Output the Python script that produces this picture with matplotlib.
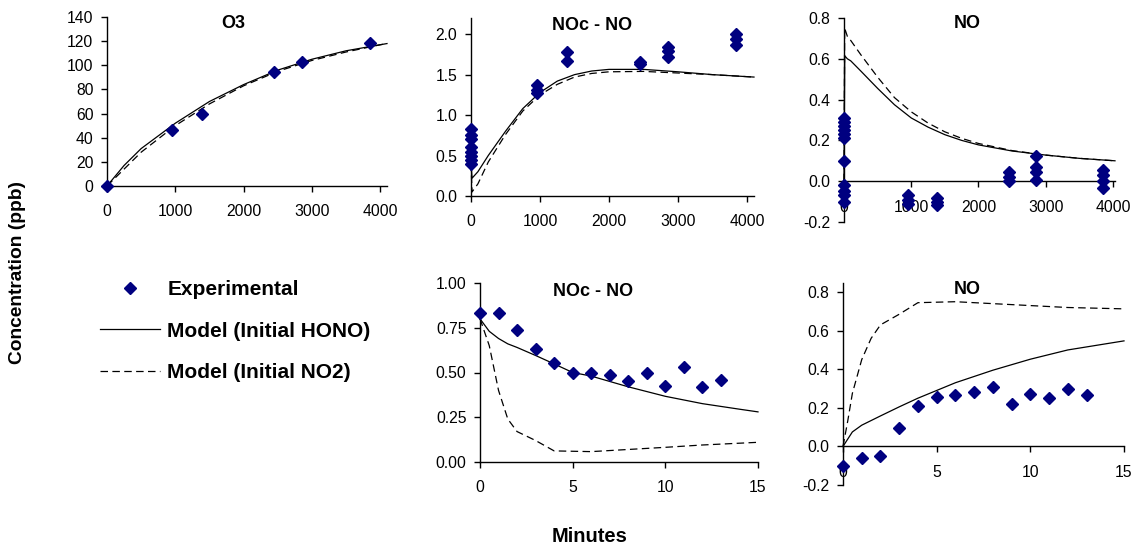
import matplotlib
matplotlib.use("Agg")
import matplotlib.pyplot as plt
from matplotlib.lines import Line2D
import numpy as np

plt.rcParams['font.family'] = ['Liberation Sans', 'DejaVu Sans']

W, H = 1135, 546
MARK = '#000080'

# ---------------- data ----------------
# Panel 1: O3 (long time scale)
o3_exp_t = [0, 950, 1385, 2450, 2855, 3845]
o3_exp_v = [0, 46.5, 60, 94.7, 102.4, 118.7]
o3_mod_t = [0, 250, 500, 1000, 1500, 2000, 2500, 3000, 3500, 4000, 4100]
o3_hono_v = [0, 17, 31, 52, 70, 84, 96, 105, 112, 117, 118]
o3_no2_v = [0, 14, 28, 50, 68, 83, 95, 104, 111, 117, 118]

# Panel 2: NOc - NO (long)
noz_exp_t = [0, 0, 0, 0, 0, 0, 0, 0,
             950, 950, 950, 1385, 1385, 2450, 2450,
             2855, 2855, 2855, 3845, 3845, 3845]
noz_exp_v = [0.40, 0.45, 0.50, 0.55, 0.61, 0.70, 0.75, 0.83,
             1.27, 1.31, 1.37, 1.67, 1.78, 1.63, 1.66,
             1.72, 1.79, 1.84, 1.87, 1.94, 2.00]
noz_mod_t = [0, 15, 100, 250, 500, 750, 1000, 1250, 1500, 1750, 2000,
             2500, 3000, 3500, 4100]
noz_hono_v = [0.40, 0.22, 0.30, 0.50, 0.80, 1.08, 1.28, 1.42, 1.50, 1.545,
              1.565, 1.565, 1.535, 1.50, 1.47]
noz_no2_v = [0.40, 0.05, 0.15, 0.42, 0.76, 1.05, 1.25, 1.38, 1.47, 1.515,
             1.535, 1.54, 1.52, 1.50, 1.47]

# Panel 3: NO (long)
no_exp_t = [0, 0, 0, 0, 0, 0, 0, 0, 0, 0, 0,
            950, 950, 950, 1385, 1385, 1385,
            2450, 2450, 2450, 2855, 2855, 2855, 2855,
            3845, 3845, 3845, 3845]
no_exp_v = [0.21, 0.23, 0.25, 0.27, 0.29, 0.31, 0.10, -0.02, -0.05, -0.07, -0.10,
            -0.07, -0.09, -0.11, -0.08, -0.10, -0.115,
            0.0, 0.02, 0.045, 0.005, 0.045, 0.07, 0.125,
            -0.035, 0.0, 0.03, 0.054]
no_mod_t = [0, 10, 50, 100, 250, 500, 750, 1000, 1250, 1500, 1750, 2000,
            2500, 3000, 3500, 4030]
no_hono_v = [0.0, 0.615, 0.60, 0.59, 0.54, 0.455, 0.375, 0.31, 0.265, 0.228,
             0.20, 0.178, 0.148, 0.128, 0.112, 0.10]
no_no2_v = [0.0, 0.75, 0.71, 0.69, 0.62, 0.51, 0.41, 0.34, 0.285, 0.242,
            0.21, 0.185, 0.15, 0.128, 0.112, 0.10]

# Panel 4: NOc - NO (minutes)
min_t = [0, 1, 2, 3, 4, 5, 6, 7, 8, 9, 10, 11, 12, 13]
nozm_exp_v = [0.83, 0.83, 0.735, 0.63, 0.553, 0.497, 0.50, 0.488, 0.45,
              0.497, 0.426, 0.529, 0.419, 0.456]
nozm_mod_t = [0, 0.5, 1, 1.5, 2, 3, 4, 5, 6, 8, 10, 12, 14, 15]
nozm_hono_v = [0.80, 0.73, 0.69, 0.66, 0.64, 0.595, 0.548, 0.50, 0.48, 0.42,
               0.367, 0.326, 0.295, 0.28]
nozm_no2_mt = [0, 0.5, 1, 1.5, 2, 3, 4, 6, 8, 10, 12, 15]
nozm_no2_v = [0.80, 0.65, 0.40, 0.24, 0.17, 0.12, 0.062, 0.058, 0.07, 0.082,
              0.095, 0.11]

# Panel 5: NO (minutes)
nom_exp_v = [-0.10, -0.062, -0.05, 0.097, 0.21, 0.255, 0.267, 0.284, 0.31,
             0.22, 0.27, 0.25, 0.30, 0.267]
nom_mod_t = [0, 0.5, 1, 2, 3, 4, 5, 6, 8, 10, 12, 15]
nom_hono_v = [0.0, 0.075, 0.11, 0.158, 0.205, 0.25, 0.29, 0.33, 0.395, 0.452,
              0.50, 0.547]
nom_no2_mt = [0, 0.25, 0.5, 1, 1.5, 2, 3, 4, 6, 8, 10, 12, 15]
nom_no2_v = [0.0, 0.13, 0.275, 0.45, 0.56, 0.63, 0.685, 0.745, 0.75, 0.74,
             0.73, 0.72, 0.713]

titles = ['O3', 'NOc - NO', 'NO', 'NOc - NO', 'NO']
legend_labels = ['Experimental', 'Model (Initial HONO)', 'Model (Initial NO2)']

# ---------------- layout ----------------
fig = plt.figure(figsize=(W / 100, H / 100), dpi=100)


def add_ax(l, r, t, b):
    return fig.add_axes([l / W, 1 - b / H, (r - l) / W, (b - t) / H])


LW = 0.9
DASH = (0, (6, 3.5))
MS = 5.8
TICKFS = 11.3


def style(ax, xlim, ylim, yticks, xticks, ylabels):
    ax.set_xlim(*xlim)
    ax.set_ylim(*ylim)
    ax.set_yticks(yticks)
    ax.set_xticks(xticks)
    ax.set_yticklabels(ylabels)
    ax.set_xticklabels([str(v) for v in xticks])
    for s in ['top', 'right']:
        ax.spines[s].set_visible(False)
    for s in ['left', 'bottom']:
        ax.spines[s].set_linewidth(1.0)
    if ylim[0] < 0:
        ax.spines['bottom'].set_position(('data', 0))
    ax.tick_params(axis='both', direction='out', length=4.3, width=1.0,
                   labelsize=TICKFS)
    ax.tick_params(axis='x', pad=9.0)
    ax.tick_params(axis='y', pad=5.5)
    ax.patch.set_alpha(0)


def draw(ax, et, ev, mt1, mv1, mt2, mv2):
    ax.plot(mt1, mv1, color='black', lw=LW, zorder=2, clip_on=False)
    ax.plot(mt2, mv2, color='black', lw=LW, ls=DASH, zorder=2, clip_on=False)
    ax.plot(et, ev, ls='none', marker='D', ms=MS, color=MARK, mec=MARK,
            zorder=3, clip_on=False)


ax1 = add_ax(107, 387, 17, 186)
draw(ax1, o3_exp_t, o3_exp_v, o3_mod_t, o3_hono_v, o3_mod_t, o3_no2_v)
style(ax1, (0, 4100), (0, 140), [0, 20, 40, 60, 80, 100, 120, 140],
      [0, 1000, 2000, 3000, 4000],
      ['0', '20', '40', '60', '80', '100', '120', '140'])

ax2 = add_ax(471, 754, 18, 196)
draw(ax2, noz_exp_t, noz_exp_v, noz_mod_t, noz_hono_v, noz_mod_t, noz_no2_v)
style(ax2, (0, 4100), (0, 2.2), [0.0, 0.5, 1.0, 1.5, 2.0],
      [0, 1000, 2000, 3000, 4000], ['0.0', '0.5', '1.0', '1.5', '2.0'])

ax3 = add_ax(844, 1115, 18, 222)
draw(ax3, no_exp_t, no_exp_v, no_mod_t, no_hono_v, no_mod_t, no_no2_v)
style(ax3, (0, 4030), (-0.2, 0.8), [-0.2, 0.0, 0.2, 0.4, 0.6, 0.8],
      [0, 1000, 2000, 3000, 4000],
      ['-0.2', '0.0', '0.2', '0.4', '0.6', '0.8'])

ax4 = add_ax(480, 758, 283, 462)
draw(ax4, min_t, nozm_exp_v, nozm_mod_t, nozm_hono_v, nozm_no2_mt, nozm_no2_v)
style(ax4, (0, 15), (0, 1.0), [0.0, 0.25, 0.5, 0.75, 1.0],
      [0, 5, 10, 15], ['0.00', '0.25', '0.50', '0.75', '1.00'])

ax5 = add_ax(843, 1124, 283, 485)
draw(ax5, min_t, nom_exp_v, nom_mod_t, nom_hono_v, nom_no2_mt, nom_no2_v)
style(ax5, (0, 15), (-0.2, 0.847), [-0.2, 0.0, 0.2, 0.4, 0.6, 0.8],
      [0, 5, 10, 15], ['-0.2', '0.0', '0.2', '0.4', '0.6', '0.8'])

# titles
title_pos = [(233, 24), (592, 25), (967, 24), (593, 291), (967, 289)]
for txt, (x, y) in zip(titles, title_pos):
    fig.text(x / W, 1 - y / H, txt, ha='center', va='center',
             fontsize=13, fontweight='bold')

fig.text(18 / W, 1 - 272 / H, 'Concentration (ppb)', rotation=90,
         ha='center', va='center', fontsize=13.8, fontweight='bold')
fig.text(590 / W, 1 - 537 / H, 'Minutes', ha='center', va='center',
         fontsize=14.5, fontweight='bold')

# legend
handles = [
    Line2D([], [], ls='none', marker='D', ms=MS, color=MARK, mec=MARK),
    Line2D([], [], color='black', lw=LW),
    Line2D([], [], color='black', lw=LW, ls=DASH),
]
leg = fig.legend(handles, legend_labels, loc='upper left',
                 bbox_to_anchor=(100 / W, 1 - 280 / H), frameon=False,
                 prop={'size': 15, 'weight': 'bold'}, handlelength=2.9,
                 handletextpad=0.33, labelspacing=1.09, borderaxespad=0,
                 borderpad=0)

fig.savefig('out.png', dpi=100)
